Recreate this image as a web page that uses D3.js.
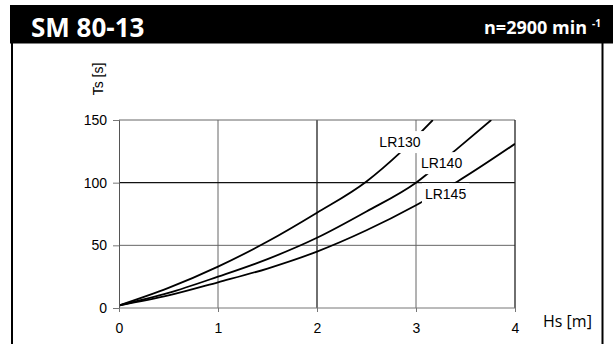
<!DOCTYPE html>
<html>
<head>
<meta charset="utf-8">
<script src="https://cdn.jsdelivr.net/npm/d3@7"></script>
<style>
  body { margin: 0; background: #fff; }
  svg { display: block; }
</style>
</head>
<body>
<svg id="chart" width="613" height="344"></svg>
<script>
// Pump model and speed shown in the header
const modelName = "SM 80-13";
const speedText = "n=2900 min";
const speedExponent = "-1";

// Axis ticks
const xTicks = [0, 1, 2, 3, 4];
const yTicks = [0, 50, 100, 150];
const xLabel = "Hs [m]";
const yLabel = "Ts [s]";

// Curve names
const seriesNames = ["LR130", "LR140", "LR145"];

// Hs [m] -> Ts [s] readings per curve
const lr130Hs = [0, 0.5, 1, 1.5, 2, 2.5, 2.84, 3.17];
const lr130Ts = [2, 16, 33, 53, 76, 101, 124, 150];
const lr140Hs = [0, 0.5, 1, 1.5, 2, 2.5, 3, 3.4, 3.76];
const lr140Ts = [2, 12, 25, 39, 56, 77, 100, 126, 150];
const lr145Hs = [0, 0.5, 1, 1.5, 2, 2.5, 3, 3.42, 4];
const lr145Ts = [2, 10, 20.5, 31.5, 45, 62, 82, 101, 131];

const series = [
  { name: seriesNames[0], hs: lr130Hs, ts: lr130Ts },
  { name: seriesNames[1], hs: lr140Hs, ts: lr140Ts },
  { name: seriesNames[2], hs: lr145Hs, ts: lr145Ts }
];

const svg = d3.select("#chart");
const sans = "'Liberation Sans', Arial, sans-serif";
const head = "'Open Sans', 'Noto Sans', sans-serif";

// ---- frame and header bar ----
svg.append("rect").attr("x", 10).attr("y", 5).attr("width", 603).attr("height", 38.5).attr("fill", "#000");
svg.append("line").attr("x1", 12).attr("x2", 12).attr("y1", 43).attr("y2", 344)
  .attr("stroke", "#000").attr("stroke-width", 2);
svg.append("line").attr("x1", 602.5).attr("x2", 602.5).attr("y1", 43).attr("y2", 344)
  .attr("stroke", "#000").attr("stroke-width", 2);

svg.append("text").attr("x", 31).attr("y", 37)
  .attr("font-family", head).attr("font-weight", 700).attr("font-size", 26)
  .attr("fill", "#fff").text(modelName);

svg.append("text").attr("x", 587).attr("y", 34).attr("text-anchor", "end")
  .attr("font-family", head).attr("font-weight", 700).attr("font-size", 18)
  .attr("fill", "#fff").text(speedText);
svg.append("text").attr("x", 592).attr("y", 27)
  .attr("font-family", head).attr("font-weight", 700).attr("font-size", 10)
  .attr("fill", "#fff").text(speedExponent);

// ---- plot area ----
const x = d3.scaleLinear().domain([0, 4]).range([119, 515]);
const y = d3.scaleLinear().domain([0, 150]).range([308, 120]);

const g = svg.append("g");

// grid lines
g.selectAll("line.vg").data(xTicks.filter(d => d > 0 && d < 4)).join("line")
  .attr("x1", d => x(d)).attr("x2", d => x(d)).attr("y1", y(0)).attr("y2", y(150))
  .attr("stroke", d => d === 2 ? "#222" : "#666")
  .attr("stroke-width", d => d === 2 ? 1.3 : 1);
g.selectAll("line.hg").data(yTicks.filter(d => d > 0)).join("line")
  .attr("x1", x(0)).attr("x2", x(4)).attr("y1", d => y(d)).attr("y2", d => y(d))
  .attr("stroke", d => d === 100 ? "#111" : "#666")
  .attr("stroke-width", d => d === 100 ? 1.4 : 1);

// plot border
g.append("line").attr("x1", x(4)).attr("x2", x(4)).attr("y1", y(0)).attr("y2", y(150))
  .attr("stroke", "#222").attr("stroke-width", 1.3);
g.append("line").attr("x1", x(0)).attr("x2", x(4)).attr("y1", y(0)).attr("y2", y(0))
  .attr("stroke", "#777").attr("stroke-width", 1);

// axes
const yAxis = d3.axisLeft(y).tickValues(yTicks).tickSize(6).tickPadding(6).tickFormat(d3.format("d"));
const xAxis = d3.axisBottom(x).tickValues(xTicks).tickSize(4).tickPadding(11).tickFormat(d3.format("d"));

const ya = svg.append("g").attr("transform", `translate(${x(0)},0)`).call(yAxis);
const xa = svg.append("g").attr("transform", `translate(0,${y(0)})`).call(xAxis);
[ya, xa].forEach(a => {
  a.select(".domain").attr("stroke", "#555").attr("stroke-width", 1);
  a.selectAll(".tick line").attr("stroke", "#777");
  a.selectAll(".tick text").attr("font-family", sans).attr("font-size", 14).attr("fill", "#000");
});
xa.select(".domain").remove();

// curves
g.append("clipPath").attr("id", "plotclip").append("rect")
  .attr("x", x(0)).attr("y", y(150)).attr("width", x(4) - x(0)).attr("height", y(0) - y(150));

const line = d3.line()
  .x(d => x(d[0])).y(d => y(d[1]))
  .curve(d3.curveMonotoneX);

g.append("g").attr("clip-path", "url(#plotclip)")
  .selectAll("path").data(series).join("path")
  .attr("d", s => line(s.hs.map((h, i) => [h, s.ts[i]])))
  .attr("fill", "none").attr("stroke", "#000").attr("stroke-width", 1.8);

// curve labels on white backing that breaks the curves and grid
const labelAt = { LR130: [2.63, 128.4], LR140: [3.05, 111.6], LR145: [3.09, 86.9] };
const lab = g.append("g");
series.forEach(s => {
  const p = labelAt[s.name];
  const t = lab.append("text").attr("x", x(p[0])).attr("y", y(p[1]))
    .attr("font-family", sans).attr("font-size", 14).attr("fill", "#000").text(s.name);
  const b = t.node().getBBox();
  lab.insert("rect", "text").attr("x", b.x - 3).attr("y", b.y - 3)
    .attr("width", b.width + 6).attr("height", b.height + 6).attr("fill", "#fff");
});

// axis titles
svg.append("text").attr("transform", "translate(103,79) rotate(-90)").attr("text-anchor", "middle")
  .attr("font-family", sans).attr("font-size", 14).attr("fill", "#000").text(yLabel);
svg.append("text").attr("x", 543).attr("y", 326.5)
  .attr("font-family", head).attr("font-size", 16).attr("fill", "#000").text(xLabel);
</script>
</body>
</html>
